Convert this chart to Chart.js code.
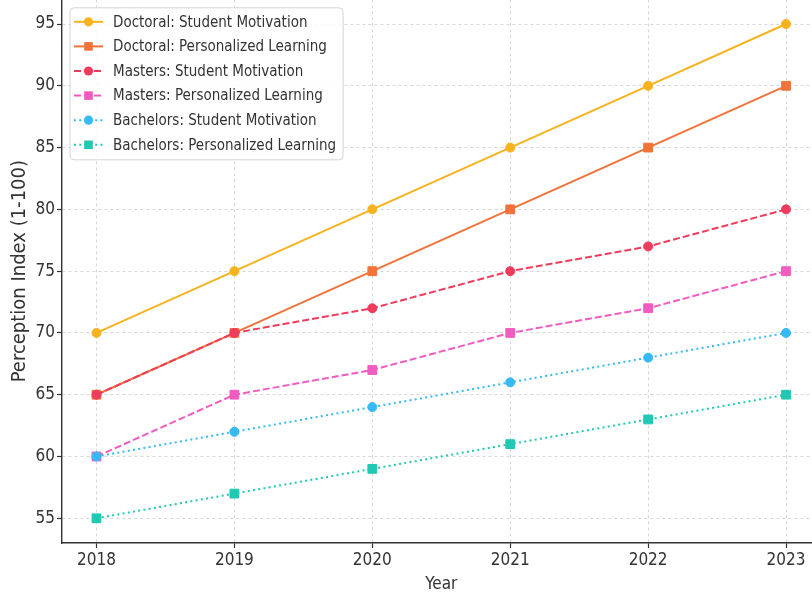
<!DOCTYPE html>
<html>
<head>
<meta charset="utf-8">
<script src="https://cdn.jsdelivr.net/npm/chart.js@4.4.0/dist/chart.umd.min.js"></script>
<style>
  html, body { margin: 0; padding: 0; width: 812px; height: 595px; overflow: hidden; background: #fff; }
  #chart { position: absolute; left: 0; top: -2px; }
</style>
</head>
<body>
<canvas id="chart" width="830" height="597"></canvas>
<script>
// values
const years = [2018, 2019, 2020, 2021, 2022, 2023];
const doctoralMotivation = [70, 75, 80, 85, 90, 95];
const doctoralPersonalized = [65, 70, 75, 80, 85, 90];
const mastersMotivation = [65, 70, 72, 75, 77, 80];
const mastersPersonalized = [60, 65, 67, 70, 72, 75];
const bachelorsMotivation = [60, 62, 64, 66, 68, 70];
const bachelorsPersonalized = [55, 57, 59, 61, 63, 65];
const yTickValues = [55, 60, 65, 70, 75, 80, 85, 90, 95];

const FONT = '"DejaVu Sans Condensed", "DejaVu Sans", sans-serif';
const TEXT = '#333333';

function series(label, values, color, dash, marker) {
  return {
    label: label,
    data: years.map((yr, i) => ({ x: yr, y: values[i] })),
    borderColor: color,
    backgroundColor: color,
    borderWidth: 2,
    borderDash: dash,
    pointStyle: marker,
    pointRadius: marker === 'rect' ? 6.2 : 4.5,
    pointBorderWidth: 1,
    pointBorderColor: color,
    pointBackgroundColor: color,
    tension: 0
  };
}

const datasets = [
  series('Doctoral: Student Motivation', doctoralMotivation, '#f8b21e', [], 'circle'),
  series('Doctoral: Personalized Learning', doctoralPersonalized, '#f2733a', [], 'rect'),
  series('Masters: Student Motivation', mastersMotivation, '#ee3c5c', [7, 3], 'circle'),
  series('Masters: Personalized Learning', mastersPersonalized, '#f25cc0', [7, 3], 'rect'),
  series('Bachelors: Student Motivation', bachelorsMotivation, '#35baf4', [2, 3.3], 'circle'),
  series('Bachelors: Personalized Learning', bachelorsPersonalized, '#1fc9b3', [2, 3.3], 'rect')
];
// later series sit on top, like the original
datasets.forEach((d, i) => { d.order = datasets.length - i; });

// legend box in the upper left corner, line sample + marker + text
const boxLegend = {
  id: 'boxLegend',
  afterDraw(chart) {
    const ctx = chart.ctx;
    const area = chart.chartArea;
    const sets = chart.data.datasets;
    ctx.save();
    ctx.font = '15px ' + FONT;
    let maxW = 0;
    sets.forEach((d) => { maxW = Math.max(maxW, ctx.measureText(d.label).width); });
    const x = area.left + 8, y = area.top + 8.5;
    const w = 43 + maxW + 7, h = 152;

    ctx.beginPath();
    ctx.roundRect(x, y, w, h, 4);
    ctx.fillStyle = 'rgba(255,255,255,0.85)';
    ctx.fill();
    ctx.strokeStyle = '#d4d4d4';
    ctx.lineWidth = 1;
    ctx.stroke();

    sets.forEach((d, i) => {
      const cy = y + 14 + i * 24.6;
      ctx.strokeStyle = d.borderColor;
      ctx.lineWidth = 2;
      ctx.setLineDash(d.borderDash);
      ctx.beginPath();
      ctx.moveTo(x + 4, cy);
      ctx.lineTo(x + 33, cy);
      ctx.stroke();
      ctx.setLineDash([]);

      ctx.fillStyle = d.borderColor;
      ctx.beginPath();
      if (d.pointStyle === 'rect') {
        ctx.rect(x + 18.5 - 4.3, cy - 4.3, 8.6, 8.6);
      } else {
        ctx.arc(x + 18.5, cy, 4.6, 0, Math.PI * 2);
      }
      ctx.fill();

      ctx.fillStyle = TEXT;
      ctx.textBaseline = 'middle';
      ctx.textAlign = 'left';
      ctx.fillText(d.label, x + 43, cy + 1);
    });
    ctx.restore();
  }
};

Chart.defaults.font.family = FONT;
Chart.defaults.color = TEXT;

new Chart(document.getElementById('chart').getContext('2d'), {
  type: 'line',
  data: { datasets: datasets },
  options: {
    responsive: false,
    animation: false,
    devicePixelRatio: 1,
    layout: { autoPadding: false, padding: { top: 1.3, right: 9.5, left: 0, bottom: 0 } },
    plugins: {
      legend: { display: false },
      tooltip: { enabled: false }
    },
    scales: {
      x: {
        type: 'linear',
        min: 2017.75,
        max: 2023.25,
        afterBuildTicks: (s) => { s.ticks = years.map((v) => ({ value: v })); },
        afterFit: (s) => { s.height = 52; s.paddingLeft = 0; s.paddingRight = 0; },
        ticks: {
          callback: (v) => String(v),
          font: { size: 17 },
          color: TEXT,
          padding: 2,
          maxRotation: 0,
          autoSkip: false
        },
        grid: {
          color: 'rgba(0,0,0,0.16)',
          lineWidth: 1,
          tickLength: 5,
          tickColor: '#333',
          tickWidth: 1.2,
          tickBorderDash: []
        },
        border: { display: true, color: '#333', width: 1.4, dash: [3, 3] },
        title: {
          display: true,
          text: 'Year',
          font: { size: 17 },
          color: TEXT,
          padding: { top: 3, bottom: 0 }
        }
      },
      y: {
        min: 53,
        max: 97,
        afterBuildTicks: (s) => { s.ticks = yTickValues.map((v) => ({ value: v })); },
        afterFit: (s) => { s.width = 62; s.paddingTop = 0; s.paddingBottom = 0; },
        ticks: {
          font: { size: 17 },
          color: TEXT,
          padding: 2
        },
        grid: {
          color: 'rgba(0,0,0,0.16)',
          lineWidth: 1,
          tickLength: 5,
          tickColor: '#333',
          tickWidth: 1.2,
          tickBorderDash: []
        },
        border: { display: true, color: '#333', width: 1.4, dash: [3, 3] },
        title: {
          display: true,
          text: 'Perception Index (1-100)',
          font: { size: 20 },
          color: TEXT,
          padding: { top: 8, bottom: 0 }
        }
      }
    }
  },
  plugins: [boxLegend]
});
</script>
</body>
</html>
